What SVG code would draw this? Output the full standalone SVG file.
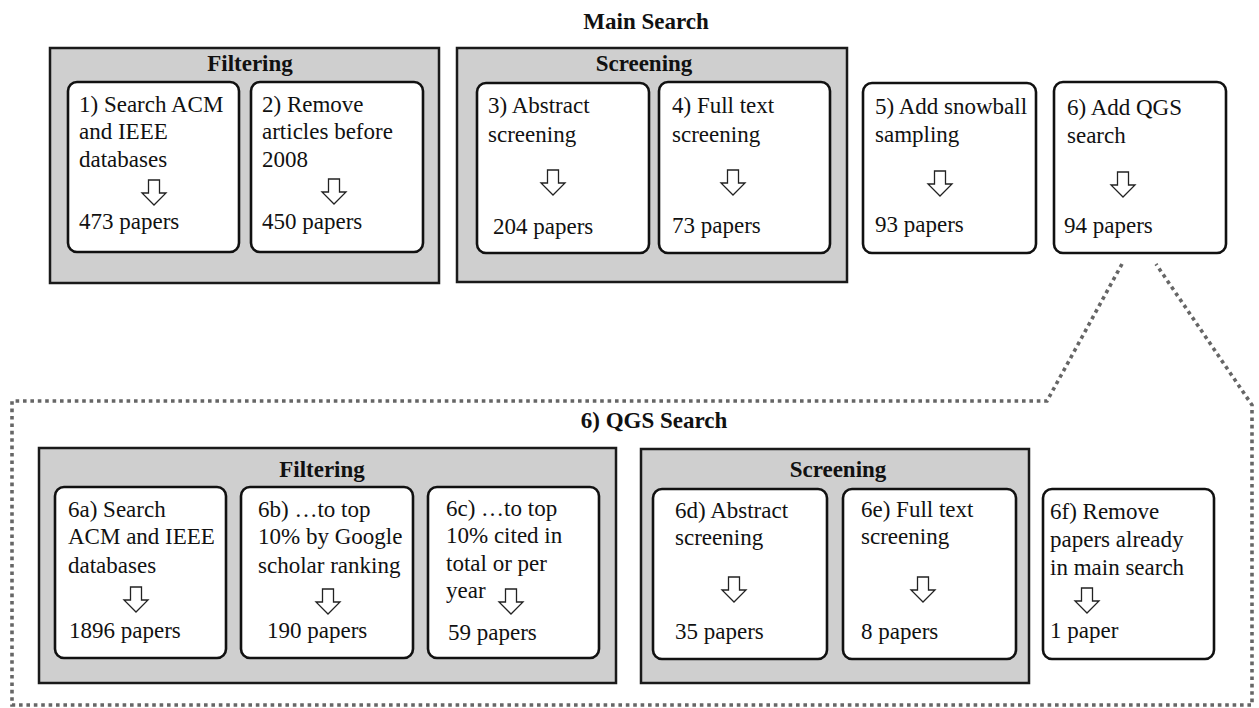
<svg xmlns="http://www.w3.org/2000/svg" width="1259" height="708" viewBox="0 0 1259 708">
<defs>
<style>
text{font-family:'Liberation Serif',Tinos,'Times New Roman','DejaVu Serif',serif;font-size:23px;fill:#111}
.t{font-weight:bold;text-anchor:middle}
.grp{fill:#cfcfcf;stroke:#1a1a1a;stroke-width:2.5}
.box{fill:#fff;stroke:#111;stroke-width:2.6}
.arr{fill:#fff;stroke:#222;stroke-width:1.3}
.dot{fill:none;stroke:#666;stroke-width:3.6;stroke-dasharray:3.6 3.8}
</style>
<path id="ar" d="M-5.5,0 H5.5 V13 H12 L0,25 L-12,13 H-5.5 Z"/>
</defs>
<rect width="1259" height="708" fill="#fff"/>

<g id="connectors">
<path class="dot" d="M1122,264 L1047,401 L12,401 L12,705 L1252,705 L1252,405 L1156,264"/>
</g>

<g id="main-search">
<text class="t" x="646" y="29">Main Search</text>
</g>

<g id="filtering-main">
<rect class="grp" x="50" y="48" width="389" height="235"/>
<text class="t" x="250" y="71">Filtering</text>
</g>
<g id="screening-main">
<rect class="grp" x="457" y="48" width="390" height="234"/>
<text class="t" x="644" y="71">Screening</text>
</g>

<g id="n1">
<rect class="box" x="68" y="82" width="171" height="170" rx="9"/>
<text x="79" y="112">1) Search ACM</text>
<text x="79" y="139">and IEEE</text>
<text x="79" y="167">databases</text>
<use href="#ar" class="arr" x="154" y="180"/>
<text x="79" y="229">473 papers</text>
</g>
<g id="n2">
<rect class="box" x="251" y="82" width="172" height="170" rx="9"/>
<text x="262" y="112">2) Remove</text>
<text x="262" y="139">articles before</text>
<text x="262" y="167">2008</text>
<use href="#ar" class="arr" x="334" y="179"/>
<text x="262" y="229">450 papers</text>
</g>
<g id="n3">
<rect class="box" x="477" y="83" width="172" height="170" rx="9"/>
<text x="488" y="113">3) Abstract</text>
<text x="488" y="142">screening</text>
<use href="#ar" class="arr" x="553" y="170"/>
<text x="493" y="234">204 papers</text>
</g>
<g id="n4">
<rect class="box" x="659" y="82" width="171" height="171" rx="9"/>
<text x="672" y="113">4) Full text</text>
<text x="672" y="142">screening</text>
<use href="#ar" class="arr" x="733" y="170"/>
<text x="672" y="233">73 papers</text>
</g>
<g id="n5">
<rect class="box" x="863" y="83" width="173" height="170" rx="9"/>
<text x="875" y="114">5) Add snowball</text>
<text x="875" y="142">sampling</text>
<use href="#ar" class="arr" x="940" y="171"/>
<text x="875" y="232">93 papers</text>
</g>
<g id="n6">
<rect class="box" x="1054" y="82" width="172" height="171" rx="9"/>
<text x="1067" y="115">6) Add QGS</text>
<text x="1067" y="143">search</text>
<use href="#ar" class="arr" x="1123" y="172"/>
<text x="1064" y="233">94 papers</text>
</g>

<g id="qgs-search">
<text class="t" x="654" y="428">6) QGS Search</text>
</g>
<g id="filtering-qgs">
<rect class="grp" x="39" y="448" width="577" height="235"/>
<text class="t" x="322" y="477">Filtering</text>
</g>
<g id="screening-qgs">
<rect class="grp" x="641" y="449" width="388" height="234"/>
<text class="t" x="838" y="477">Screening</text>
</g>

<g id="n6a">
<rect class="box" x="55" y="487" width="171" height="171" rx="9"/>
<text x="68" y="517">6a) Search</text>
<text x="68" y="544">ACM and IEEE</text>
<text x="68" y="573">databases</text>
<use href="#ar" class="arr" x="136" y="587"/>
<text x="69" y="638">1896 papers</text>
</g>
<g id="n6b">
<rect class="box" x="241" y="487" width="172" height="171" rx="9"/>
<text x="258" y="517">6b) …to top</text>
<text x="258" y="544">10% by Google</text>
<text x="258" y="573">scholar ranking</text>
<use href="#ar" class="arr" x="328" y="589"/>
<text x="267" y="638">190 papers</text>
</g>
<g id="n6c">
<rect class="box" x="428" y="487" width="171" height="171" rx="9"/>
<text x="446" y="516">6c) …to top</text>
<text x="446" y="543">10% cited in</text>
<text x="446" y="571">total or per</text>
<text x="446" y="598">year</text>
<use href="#ar" class="arr" x="511" y="589"/>
<text x="448" y="640">59 papers</text>
</g>
<g id="n6d">
<rect class="box" x="653" y="489" width="174" height="170" rx="9"/>
<text x="675" y="518">6d) Abstract</text>
<text x="675" y="545">screening</text>
<use href="#ar" class="arr" x="734" y="577"/>
<text x="675" y="639">35 papers</text>
</g>
<g id="n6e">
<rect class="box" x="843" y="489" width="173" height="170" rx="9"/>
<text x="861" y="517">6e) Full text</text>
<text x="861" y="544">screening</text>
<use href="#ar" class="arr" x="923" y="577"/>
<text x="861" y="639">8 papers</text>
</g>
<g id="n6f">
<rect class="box" x="1043" y="489" width="171" height="170" rx="9"/>
<text x="1050" y="519">6f) Remove</text>
<text x="1050" y="547">papers already</text>
<text x="1050" y="575">in main search</text>
<use href="#ar" class="arr" x="1087" y="588"/>
<text x="1050" y="638">1 paper</text>
</g>
</svg>
